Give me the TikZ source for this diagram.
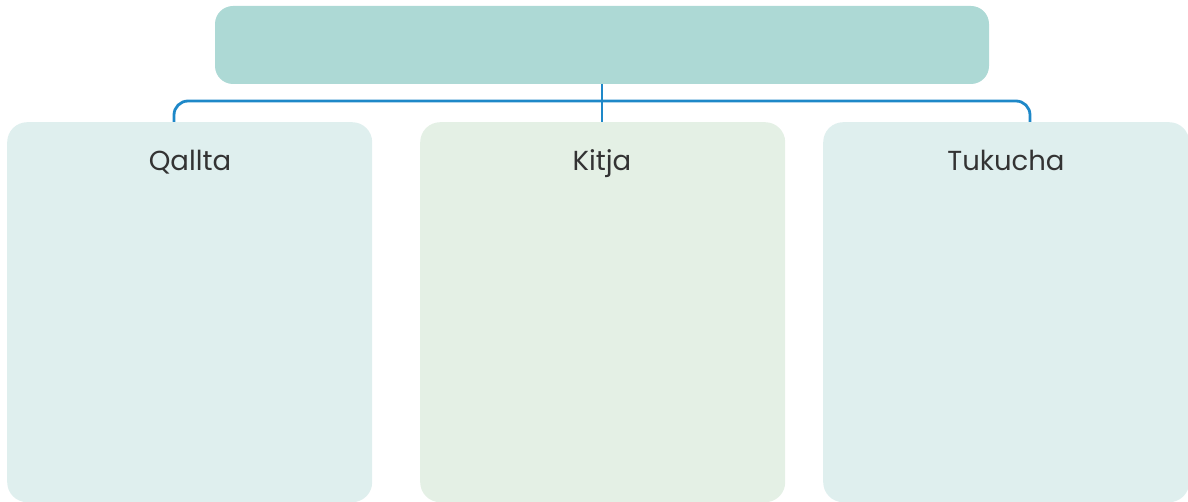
\documentclass[tikz,border=0pt]{standalone}
\usepackage{fontspec}
\setmainfont{Poppins}
\definecolor{topc}{HTML}{ADD9D5}
\definecolor{sidec}{HTML}{DFEFEE}
\definecolor{midc}{HTML}{E4F0E5}
\definecolor{linec}{HTML}{1E88C8}
\begin{document}
\begin{tikzpicture}[x=1pt,y=-1pt,
  card/.style={rounded corners=20pt,inner sep=0pt,anchor=north west},
  lbl/.style={font=\fontsize{27.5}{32}\selectfont,text=black!80,anchor=base},
  conn/.style={draw=linec,line width=2.8pt,rounded corners=14pt}]
\useasboundingbox (0,0) rectangle (1188,502);
\fill[topc,rounded corners=18pt] (215,6) rectangle (989,84);
\coordinate (topb) at (602,84);
\node[card,fill=sidec,minimum width=365pt,minimum height=380pt] (left) at (7,122) {};
\node[card,fill=midc,minimum width=365pt,minimum height=380pt] (mid) at (420,122) {};
\node[card,fill=sidec,minimum width=366pt,minimum height=380pt] (right) at (823,122) {};
\node[lbl] (lq) at (190,171) {Qallta};
\node[lbl] (lk) at (602,171) {Kitja};
\node[lbl] (lt) at (1006,171) {Tukucha};
\draw[conn] (left.north west -| 174,0) -- (174,101) -- (1030,101) -- (right.north west -| 1030,0);
\draw[draw=linec,line width=2.8pt] (topb) -- (mid.north west -| topb);
\end{tikzpicture}
\end{document}
